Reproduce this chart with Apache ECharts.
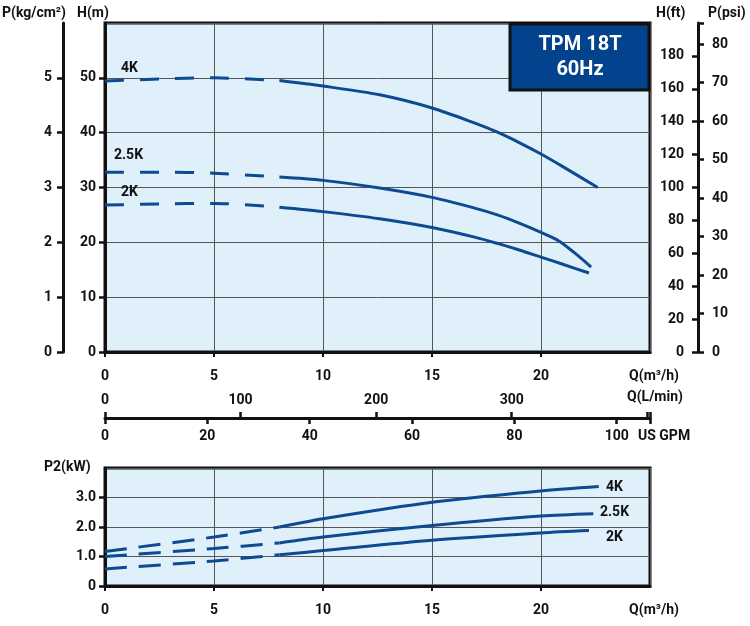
<!DOCTYPE html>
<html>
<head>
<meta charset="utf-8">
<script src="https://cdn.jsdelivr.net/npm/echarts@6/dist/echarts.min.js"></script>
<style>
html, body { margin: 0; padding: 0; background: #fff; }
#chart { width: 750px; height: 626px; }
</style>
</head>
<body>
<div id="chart"></div>
<script>
// head curves, H(m) against Q(m3/h)
var q4k = [0, 2.5, 5, 8, 10, 12.6, 15, 17, 18, 19, 20, 21, 22.6];
var h4k = [49.4, 49.8, 50.0, 49.5, 48.5, 46.9, 44.5, 41.7, 40.1, 38.2, 36.1, 33.8, 30.0];
var q25k = [0, 2.5, 5, 8, 10, 12.6, 15, 17, 18, 19, 20, 20.8, 21.5, 22.3];
var h25k = [32.8, 32.8, 32.6, 31.9, 31.3, 29.9, 28.2, 26.2, 25.0, 23.5, 21.8, 20.3, 18.2, 15.5];
var q2k = [0, 2.5, 5, 8, 10, 12.6, 15, 17, 18, 19, 20, 21, 22.2];
var h2k = [26.8, 27.0, 27.1, 26.4, 25.6, 24.3, 22.7, 20.9, 19.8, 18.6, 17.3, 16.0, 14.4];

// power curves, P2(kW) against Q(m3/h)
var pq4k = [0, 5, 8, 10, 15, 20, 22.65];
var p4k = [1.17, 1.66, 2.0, 2.28, 2.84, 3.22, 3.37];
var pq25k = [0, 5, 8, 10, 15, 20, 22.4];
var p25k = [1.0, 1.27, 1.46, 1.66, 2.05, 2.37, 2.45];
var pq2k = [0, 5, 8, 10, 15, 20, 22.2];
var p2k = [0.58, 0.85, 1.06, 1.2, 1.55, 1.8, 1.88];

// below this flow the curves are dashed
var dashEnd = 8;

var lineColor = '#0d4a92';
var axisColor = '#111';
var gridColor = '#555';
var font = 'Roboto, "Liberation Sans", sans-serif';

function pairs(xs, ys, from, to) {
    var out = [];
    for (var i = 0; i < xs.length; i++) {
        if (xs[i] >= from && xs[i] <= to) out.push([xs[i], ys[i]]);
    }
    return out;
}

function curve(xs, ys, xi, yi, dash) {
    var base = {
        type: 'line',
        xAxisIndex: xi,
        yAxisIndex: yi,
        smooth: 0.3,
        symbol: 'none',
        silent: true,
        z: 5
    };
    var a = Object.assign({}, base, {
        data: pairs(xs, ys, 0, dashEnd),
        lineStyle: {color: lineColor, width: 3, type: dash}
    });
    var b = Object.assign({}, base, {
        data: pairs(xs, ys, dashEnd, 99),
        lineStyle: {color: lineColor, width: 3, type: 'solid'}
    });
    return [a, b];
}

function label(x, y, t, align) {
    return {
        type: 'text', x: x, y: y, z: 20,
        style: {text: t, fill: '#111', font: 'bold 14px ' + font, align: align || 'left', verticalAlign: 'middle'}
    };
}

var tickLabel = {color: '#111', fontFamily: font, fontWeight: 'bold', fontSize: 14};

function yLine() {
    return {show: true, onZero: false, lineStyle: {color: axisColor, width: 3}};
}

var series = []
    .concat(curve(q4k, h4k, 0, 0, [19, 16]))
    .concat(curve(q25k, h25k, 0, 0, [19, 16]))
    .concat(curve(q2k, h2k, 0, 0, [19, 16]))
    .concat(curve(pq4k, p4k, 3, 4, [22, 12]))
    .concat(curve(pq25k, p25k, 3, 4, [22, 12]))
    .concat(curve(pq2k, p2k, 3, 4, [22, 12]));

var chart = echarts.init(document.getElementById('chart'));

chart.setOption({
    animation: false,
    grid: [
        {left: 105, right: 100, top: 23, height: 329, show: true, backgroundColor: '#dff0fa', borderColor: axisColor, borderWidth: 3},
        {left: 105, right: 100, top: 468, height: 118, show: true, backgroundColor: '#dff0fa', borderColor: axisColor, borderWidth: 3}
    ],
    xAxis: [
        {
            type: 'value', gridIndex: 0, min: 0, max: 25, interval: 5, position: 'bottom',
            axisLine: {onZero: false, lineStyle: {color: axisColor, width: 3}},
            axisTick: {length: 5, lineStyle: {color: axisColor, width: 2}},
            axisLabel: Object.assign({margin: 17, showMaxLabel: false}, tickLabel),
            splitLine: {lineStyle: {color: gridColor, width: 1}}
        },
        {
            type: 'value', gridIndex: 0, min: 0, max: 402, interval: 100, position: 'bottom', offset: 66,
            axisLine: {onZero: false, lineStyle: {color: axisColor, width: 3}},
            axisTick: {inside: true, length: 6, lineStyle: {color: axisColor, width: 2.5}},
            axisLabel: Object.assign({inside: true, margin: 11, formatter: function (v) { return v < 350 ? v : ''; }}, tickLabel),
            splitLine: {show: false}
        },
        {
            type: 'value', gridIndex: 0, min: 0, max: 106.5, interval: 20, position: 'bottom', offset: 66,
            axisLine: {show: false, onZero: false},
            axisTick: {length: 6, lineStyle: {color: axisColor, width: 2.5}},
            axisLabel: Object.assign({margin: 11, formatter: function (v) { return v % 20 === 0 ? v : ''; }}, tickLabel),
            splitLine: {show: false}
        },
        {
            type: 'value', gridIndex: 1, min: 0, max: 25, interval: 5, position: 'bottom',
            axisLine: {onZero: false, lineStyle: {color: axisColor, width: 3}},
            axisTick: {length: 5, lineStyle: {color: axisColor, width: 2}},
            axisLabel: Object.assign({margin: 17, showMaxLabel: false}, tickLabel),
            splitLine: {lineStyle: {color: gridColor, width: 1}}
        }
    ],
    yAxis: [
        {
            type: 'value', gridIndex: 0, min: 0, max: 60, interval: 10, position: 'left',
            axisLine: yLine(),
            axisTick: {show: true, length: 6, lineStyle: {color: axisColor, width: 2.5}},
            axisLabel: Object.assign({margin: 9, showMaxLabel: false}, tickLabel),
            splitLine: {lineStyle: {color: gridColor, width: 1}}
        },
        {
            type: 'value', gridIndex: 0, min: 0, max: 6, interval: 1, position: 'left', offset: 42,
            axisLine: yLine(),
            axisTick: {show: true, length: 6, lineStyle: {color: axisColor, width: 2.5}},
            axisLabel: Object.assign({margin: 11, showMaxLabel: false}, tickLabel),
            splitLine: {show: false}
        },
        {
            type: 'value', gridIndex: 0, min: 0, max: 200, interval: 20, position: 'right', offset: 48,
            axisLine: yLine(),
            axisTick: {show: true, inside: true, length: 6, lineStyle: {color: axisColor, width: 2.5}},
            axisLabel: Object.assign({inside: true, margin: 14, showMaxLabel: false}, tickLabel),
            splitLine: {show: false}
        },
        {
            type: 'value', gridIndex: 0, min: 0, max: 85.5, interval: 10, position: 'right', offset: 48,
            axisLine: {show: false, onZero: false},
            axisTick: {show: true, length: 6, lineStyle: {color: axisColor, width: 2.5}},
            axisLabel: Object.assign({margin: 14, formatter: function (v) { return v % 10 === 0 ? v : ''; }}, tickLabel),
            splitLine: {show: false}
        },
        {
            type: 'value', gridIndex: 1, min: 0, max: 4, interval: 1, position: 'left',
            axisLine: yLine(),
            axisTick: {show: true, length: 6, lineStyle: {color: axisColor, width: 2.5}},
            axisLabel: Object.assign({margin: 9, showMaxLabel: false, formatter: function (v) { return v === 0 ? '0' : v.toFixed(1); }}, tickLabel),
            splitLine: {lineStyle: {color: gridColor, width: 1}}
        }
    ],
    series: series,
    graphic: [
        label(2, 13, 'P(kg/cm²)'),
        label(77, 13, 'H(m)'),
        label(656, 13, 'H(ft)'),
        label(708, 13, 'P(psi)'),
        label(654, 376, 'Q(m³/h)', 'center'),
        label(655, 397, 'Q(L/min)', 'center'),
        label(638, 436, 'US GPM'),
        label(44, 467, 'P2(kW)'),
        label(654, 610, 'Q(m³/h)', 'center'),
        label(121, 68, '4K'),
        label(114, 155, '2.5K'),
        label(121, 192, '2K'),
        label(606, 487, '4K'),
        label(600, 512, '2.5K'),
        label(606, 537, '2K'),
        {
            type: 'rect', z: 15,
            shape: {x: 510, y: 24, width: 139, height: 66},
            style: {fill: '#03428c', stroke: '#111', lineWidth: 3}
        },
        {
            type: 'text', z: 16, x: 580, y: 45,
            style: {text: 'TPM 18T', fill: '#fff', font: 'bold 20px ' + font, align: 'center', verticalAlign: 'middle'}
        },
        {
            type: 'text', z: 16, x: 580, y: 70,
            style: {text: '60Hz', fill: '#fff', font: 'bold 20px ' + font, align: 'center', verticalAlign: 'middle'}
        }
    ]
});
</script>
</body>
</html>
